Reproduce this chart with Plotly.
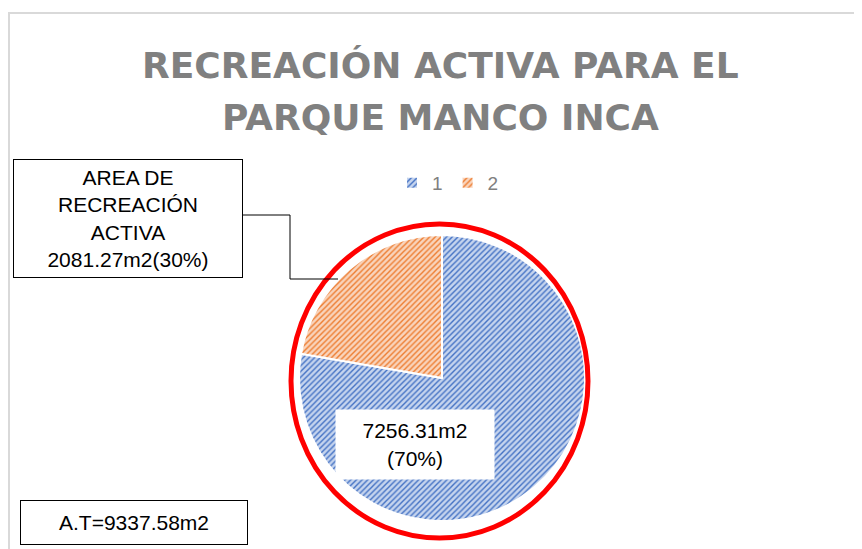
import plotly.graph_objects as go

W, H = 862, 549
OFF = 8  # page body margin in the browser

labels = ["1", "2"]
areas = [7256.31, 2081.27]
slice_colors = ["#4472C4", "#ED7D31"]
slice_bg = ["#C5D4EE", "#F9D4BC"]

title_lines = ["RECREACIÓN ACTIVA PARA EL", "PARQUE MANCO INCA"]
label_active = "AREA DE<br>RECREACIÓN<br>ACTIVA<br>2081.27m2(30%)"
label_rest = "7256.31m2<br>(70%)"
label_total = "A.T=9337.58m2"


def px_x(x):
    return (x - OFF) / W


def px_y(y):
    return 1 - (y - OFF) / H


cx, cy, r = 442, 378, 143

fig = go.Figure(
    go.Pie(
        labels=labels,
        values=areas,
        sort=False,
        direction="clockwise",
        rotation=0,
        textinfo="none",
        hoverinfo="label+value+percent",
        marker=dict(
            colors=slice_bg,
            line=dict(color="white", width=2),
            pattern=dict(shape="/", fgcolor=slice_colors, bgcolor=slice_bg,
                         size=4, solidity=0.35),
        ),
        domain=dict(x=[px_x(cx - r), px_x(cx + r)], y=[px_y(cy + r), px_y(cy - r)]),
    )
)

box_font = dict(family="Liberation Sans, Arial", size=21, color="black")

fig.add_annotation(
    x=px_x(128), y=px_y(218), xref="paper", yref="paper",
    xanchor="center", yanchor="middle",
    text=label_active, showarrow=False, font=box_font, align="center",
    bordercolor="black", borderwidth=1, bgcolor="white",
    width=226, height=115, borderpad=1,
)
fig.add_annotation(
    x=px_x(415), y=px_y(444), xref="paper", yref="paper",
    xanchor="center", yanchor="middle",
    text=label_rest, showarrow=False, font=box_font, align="center",
    bgcolor="white", width=156, height=67,
)
fig.add_annotation(
    x=px_x(134), y=px_y(522), xref="paper", yref="paper",
    xanchor="center", yanchor="middle",
    text=label_total, showarrow=False, font=box_font, align="center",
    bordercolor="black", borderwidth=1, bgcolor="white",
    width=224, height=41, borderpad=1,
)

shapes = [
    # chart area border
    dict(type="rect", x0=px_x(9), y0=px_y(600), x1=px_x(900), y1=px_y(13),
         line=dict(color="#D9D9D9", width=2)),
    # red ring round the pie
    dict(type="circle", x0=px_x(291), y0=px_y(538), x1=px_x(588), y1=px_y(224),
         line=dict(color="#FF0000", width=5)),
    # leader line
    dict(type="path",
         path=f"M {px_x(243)},{px_y(215)} L {px_x(290)},{px_y(215)} "
              f"L {px_x(290)},{px_y(279)} L {px_x(338)},{px_y(279)}",
         line=dict(color="black", width=1)),
]

fig.update_layout(
    width=W,
    height=H,
    margin=dict(l=0, r=0, t=0, b=0),
    paper_bgcolor="white",
    plot_bgcolor="white",
    shapes=shapes,
    showlegend=True,
    legend=dict(
        orientation="h", x=px_x(448), y=px_y(183), xanchor="center", yanchor="middle",
        font=dict(family="Liberation Sans, Arial", size=19, color="#808080"),
        bgcolor="rgba(0,0,0,0)", itemwidth=30,
    ),
)

for i, line in enumerate(title_lines):
    fig.add_annotation(
        x=px_x(441), y=px_y(65 + 52 * i), xref="paper", yref="paper",
        xanchor="center", yanchor="middle",
        text=f"<b>{line}</b>", showarrow=False,
        font=dict(family="DejaVu Sans", size=36, color="#808080"),
    )

fig.write_html("out.html")
